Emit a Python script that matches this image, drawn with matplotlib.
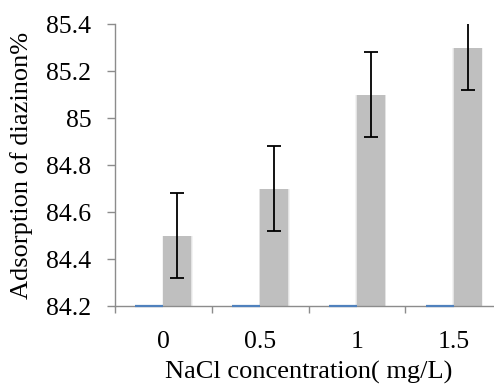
import numpy as np
import matplotlib
matplotlib.use("Agg")
import matplotlib.pyplot as plt

# NaCl dose series
categories = ["0", "0.5", "1", "1.5"]
adsorption = [84.5, 84.7, 85.1, 85.3]
adsorption_err = [0.18, 0.18, 0.18, 0.18]
baseline_series = [84.2, 84.2, 84.2, 84.2]

plt.rcParams["font.family"] = ["Liberation Serif", "DejaVu Serif"]

fig = plt.figure(figsize=(4.94, 3.85), dpi=100)
ax = fig.add_axes([0.233, 0.205, 0.783, 0.7325])

x = np.arange(len(categories))
w = 0.29
ymin = 84.2

# soft halo around the grey bars
for grow, alpha in [(0.03, 0.18), (0.015, 0.3)]:
    ax.bar(x + w / 2, np.array(adsorption) - ymin, width=w + grow, bottom=ymin,
           color="#bfbfbf", alpha=alpha, linewidth=0)
ax.bar(x + w / 2, np.array(adsorption) - ymin, width=w, bottom=ymin,
       color="#bfbfbf", linewidth=0)
ax.errorbar(x + w / 2, adsorption, yerr=adsorption_err, fmt="none",
            ecolor="black", elinewidth=1.3, capsize=5, capthick=1.3, zorder=5)

# second series sits on the axis floor
blue = ax.bar(x - w / 2, np.array(baseline_series) - ymin, width=w, bottom=ymin,
              color="#4f81bd", edgecolor="#4f81bd", linewidth=1.6, zorder=4)
for b in blue:
    b.set_clip_on(False)

ax.set_xlim(-0.5, len(categories) - 0.5)
ax.set_ylim(84.2, 85.4)
ax.set_yticks([84.2, 84.4, 84.6, 84.8, 85.0, 85.2, 85.4])
ax.set_yticklabels(["84.2", "84.4", "84.6", "84.8", "85", "85.2", "85.4"])
ax.set_xticks(x)
ax.set_xticklabels(categories)
ax.set_xticks(np.arange(len(categories) + 1) - 0.5, minor=True)
ax.tick_params(axis="x", which="major", length=0, labelsize=18.5, pad=18)
ax.tick_params(axis="x", which="minor", length=5, color="#8c8c8c", width=1)
ax.tick_params(axis="y", length=6, color="#8c8c8c", width=1, labelsize=18.5, pad=11)

for side in ["top", "right"]:
    ax.spines[side].set_visible(False)
for side in ["left", "bottom"]:
    ax.spines[side].set_color("#8c8c8c")
    ax.spines[side].set_linewidth(1)

ax.set_ylabel("Adsorption of diazinon%", fontsize=19)
ax.yaxis.set_label_coords(-0.212, 0.5)
ax.set_xlabel("NaCl concentration( mg/L)", fontsize=19)
ax.xaxis.set_label_coords(0.5, -0.193)

fig.savefig("out.png", dpi=100)
